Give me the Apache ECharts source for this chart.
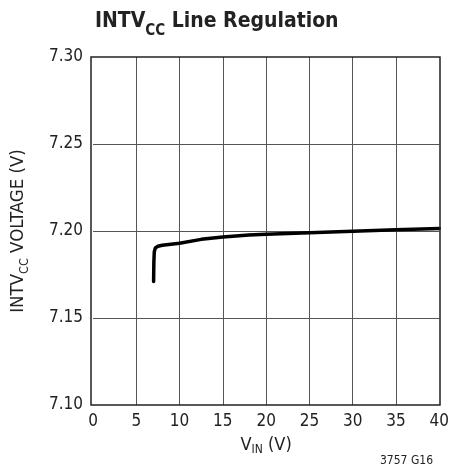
<!DOCTYPE html>
<html><head><meta charset="utf-8">
<script src="https://cdn.jsdelivr.net/npm/echarts@6/dist/echarts.min.js"></script>
<style>html,body{margin:0;padding:0;background:#fff}#c{width:452px;height:471px}</style>
</head><body><div id="c"></div>
<script>
const vin = [7, 7.03, 7.08, 7.2, 7.5, 8, 10, 12.5, 15, 18, 20, 25, 30, 35, 40];
const vcc = [7.171, 7.182, 7.188, 7.1902, 7.1912, 7.1918, 7.193, 7.1952, 7.1965, 7.1977, 7.1982, 7.199, 7.1998, 7.2007, 7.2015];
const xTicks = [0, 5, 10, 15, 20, 25, 30, 35, 40];
const yTicks = [7.10, 7.15, 7.20, 7.25, 7.30];
const FONT = '"Liberation Sans Narrow","DejaVu Sans Condensed","Roboto Condensed",sans-serif';
const chart = echarts.init(document.getElementById('c'));
chart.setOption({
  animation: false,
  title: {
    text: '{a|INTV}{b|CC}{a| Line Regulation}',
    left: 90, top: 6,
    textStyle: {
      rich: {
        a: {fontFamily: FONT, fontWeight: 'bold', fontSize: 21, color: '#222', verticalAlign: 'top', lineHeight: 28},
        b: {fontFamily: FONT, fontWeight: 'bold', fontSize: 15, color: '#222', verticalAlign: 'bottom', lineHeight: 20, padding: [12, 0, 0, 0]}
      }
    }
  },
  grid: {left: 91, right: 12, top: 57, bottom: 66, containLabel: false},
  xAxis: {
    type: 'value', min: 0, max: 40, interval: 5,
    name: '{a|V}{b|IN}{a| (V)}', nameLocation: 'middle', nameGap: 28,
    nameTextStyle: {rich: {
      a: {fontFamily: FONT, fontSize: 18, color: '#222', verticalAlign: 'top', lineHeight: 20},
      b: {fontFamily: FONT, fontSize: 12, color: '#222', verticalAlign: 'bottom', lineHeight: 14, padding: [9, 0, 0, 0]}
    }},
    axisLine: {show: false},
    axisTick: {show: false},
    splitLine: {show: true, showMinLine: false, showMaxLine: false, lineStyle: {color: '#555', width: 1}},
    axisLabel: {fontFamily: FONT, fontSize: 17, color: '#222', margin: 8,
      formatter: v => xTicks.includes(v) ? String(v) : ''}
  },
  yAxis: {
    type: 'value', min: 7.10, max: 7.30, interval: 0.05,
    name: '{a|INTV}{b|CC}{a| VOLTAGE (V)}', nameLocation: 'middle', nameGap: 62, nameRotate: 90,
    nameTextStyle: {rich: {
      a: {fontFamily: FONT, fontSize: 18.5, color: '#222', verticalAlign: 'top', lineHeight: 22},
      b: {fontFamily: FONT, fontSize: 12.5, color: '#222', verticalAlign: 'bottom', lineHeight: 15, padding: [10, 0, 0, 0]}
    }},
    axisLine: {show: false},
    axisTick: {show: false},
    splitLine: {show: true, showMinLine: false, showMaxLine: false, lineStyle: {color: '#555', width: 1}},
    axisLabel: {fontFamily: FONT, fontSize: 17, color: '#222', margin: 10,
      formatter: v => yTicks.some(t => Math.abs(t - v) < 1e-9) ? v.toFixed(2) : ''}
  },
  graphic: [
    {type: 'rect', shape: {x: 91, y: 57, width: 349, height: 348}, style: {fill: 'none', stroke: '#222', lineWidth: 1.5}, silent: true, z: 100},
    {type: 'text', left: 380, top: 455, style: {text: '3757 G16', fontFamily: FONT, fontSize: 12, fill: '#222'}}
  ],
  series: [{
    type: 'line', showSymbol: false, smooth: false,
    data: vin.map((x, i) => [x, vcc[i]]),
    lineStyle: {color: '#000', width: 3.5, join: 'round', cap: 'round'},
    z: 10
  }]
});
</script></body></html>
